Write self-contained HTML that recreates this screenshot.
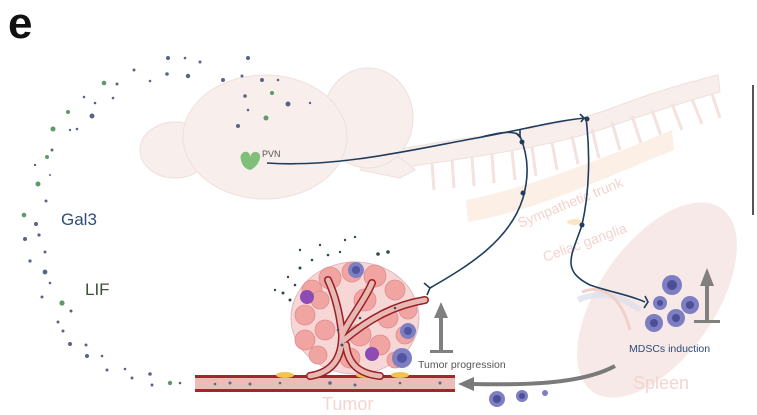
<!DOCTYPE html>
<html><head><meta charset="utf-8"><style>
html,body{margin:0;padding:0;background:#fff;width:757px;height:415px;overflow:hidden}
svg{display:block;font-family:"Liberation Sans",sans-serif}
</style></head><body>
<svg width="757" height="415" viewBox="0 0 757 415" xmlns="http://www.w3.org/2000/svg">
<text x="8" y="38" font-size="44" font-weight="bold" fill="#111">e</text>
<line x1="753" y1="85" x2="753" y2="215" stroke="#555" stroke-width="2"/>
<!-- spine -->
<g fill="#f8eeec" stroke="#efe0dc" stroke-width="1">
<path d="M395,150 C470,135 560,130 620,105 C660,90 690,82 718,75 L720,92 C690,100 660,110 620,123 C560,146 480,156 400,168 Z"/>
</g>
<g stroke="#f3e2de" stroke-width="3" fill="none">
<line x1="432" y1="163" x2="434" y2="190"/><line x1="452" y1="160" x2="454" y2="188"/><line x1="472" y1="157" x2="474" y2="186"/><line x1="492" y1="154" x2="494" y2="183"/><line x1="512" y1="151" x2="515" y2="180"/><line x1="532" y1="147" x2="536" y2="176"/><line x1="552" y1="142" x2="557" y2="170"/><line x1="572" y1="136" x2="578" y2="164"/><line x1="592" y1="129" x2="599" y2="158"/><line x1="612" y1="122" x2="620" y2="150"/><line x1="632" y1="116" x2="641" y2="143"/><line x1="652" y1="110" x2="661" y2="136"/><line x1="672" y1="104" x2="682" y2="130"/><line x1="692" y1="99" x2="702" y2="124"/><line x1="712" y1="94" x2="720" y2="118"/>
</g>
<!-- sympathetic trunk -->
<path d="M466,200 C520,190 600,160 672,130 L674,150 C610,175 540,210 468,222 Z" fill="#fcefe6"/>
<text x="520" y="228" font-size="14" fill="#f3d3ce" transform="rotate(-22 520 228)">Sympathetic trunk</text>
<ellipse cx="575" cy="222" rx="8" ry="3" fill="#fbe6c4"/>
<text x="545" y="262" font-size="14" fill="#f3d3ce" transform="rotate(-20 545 262)">Celiac ganglia</text>
<!-- brain -->
<g fill="#f8eeec" stroke="#eee0dc" stroke-width="1">
<path d="M370,150 C395,150 410,165 415,170 L400,178 L360,170 Z"/>
<ellipse cx="368" cy="118" rx="45" ry="50"/>
<ellipse cx="175" cy="150" rx="35" ry="28"/>
<ellipse cx="265" cy="137" rx="82" ry="62"/>
</g>
<path d="M241,160 c-3,-9 10,-12 9,-2 c1,-10 14,-7 9,3 c-2,5 -6,8 -9,9 c-4,-1 -8,-4 -9,-10z" fill="#7fbf7a"/>
<text x="262" y="157" font-size="9" fill="#555">PVN</text>
<!-- spleen -->
<g transform="rotate(35 657 300)"><ellipse cx="657" cy="300" rx="58" ry="112" fill="#f7e9e7"/></g>
<path d="M578,300 C600,290 620,295 640,310" stroke="#dde0ec" stroke-width="6" fill="none" opacity="0.8"/>
<path d="M582,292 C600,285 620,292 630,330" stroke="#f4cfca" stroke-width="3" fill="none"/>
<text x="633" y="389" font-size="18" fill="#f3d5d1">Spleen</text>
<!-- nerves -->
<g stroke="#1f3d5c" stroke-width="1.6" fill="none">
<path d="M267,163 C340,168 420,148 482,137 C530,128 560,120 586,118"/>
<path d="M482,137 C500,132 515,130 520,136 C530,160 528,180 523,198 C510,240 470,265 430,288"/>
<path d="M586,118 C590,150 590,190 582,225 C572,255 560,270 590,285 C610,292 630,295 645,302"/>
<path d="M424,283 l6,5 l-3,7"/><path d="M645,296 l3,6 l-4,6"/>
<path d="M516,133 l4,4 M520,130 l0,8"/><path d="M580,114 l4,4 l-3,4"/>
</g>
<g fill="#1f3d5c"><circle cx="522" cy="142" r="2.5"/><circle cx="523" cy="193" r="2.5"/><circle cx="582" cy="225" r="2.5"/><circle cx="587" cy="119" r="2.5"/></g>
<!-- vessel -->
<rect x="195" y="376" width="260" height="15" fill="#e9bdb8"/>
<rect x="195" y="375" width="260" height="3" fill="#a3262b"/>
<rect x="195" y="389" width="260" height="3" fill="#a3262b"/>
<ellipse cx="285" cy="375" rx="9" ry="3" fill="#f2c350"/><ellipse cx="365" cy="375" rx="9" ry="3" fill="#f2c350"/><ellipse cx="400" cy="375" rx="9" ry="3" fill="#f2c350"/>
<!-- tumor -->
<ellipse cx="355" cy="318" rx="64" ry="56" fill="#f6d7d6" stroke="#e2b8c0" stroke-width="1"/>
<g fill="#f0a5a3" stroke="#e08c8a" stroke-width="0.8">
<circle cx="312" cy="290" r="10"/><circle cx="330" cy="278" r="11"/><circle cx="352" cy="272" r="10"/><circle cx="375" cy="276" r="11"/><circle cx="395" cy="290" r="10"/>
<circle cx="305" cy="315" r="10"/><circle cx="320" cy="300" r="9"/><circle cx="365" cy="300" r="11"/><circle cx="388" cy="318" r="10"/><circle cx="408" cy="310" r="9"/>
<circle cx="305" cy="340" r="10"/><circle cx="325" cy="330" r="10"/><circle cx="360" cy="335" r="11"/><circle cx="380" cy="345" r="10"/><circle cx="405" cy="335" r="9"/>
<circle cx="318" cy="355" r="9"/><circle cx="350" cy="358" r="10"/><circle cx="395" cy="360" r="8"/>
</g>
<g fill="none" stroke-linecap="round">
<path d="M310,376 C335,372 342,355 342,335 C340,315 335,295 328,280 M342,335 C350,318 365,300 372,283 M344,340 C370,318 395,305 425,300 M346,345 C348,365 360,374 380,376" stroke="#9a1f26" stroke-width="8"/>
<path d="M310,376 C335,372 342,355 342,335 C340,315 335,295 328,280 M342,335 C350,318 365,300 372,283 M344,340 C370,318 395,305 425,300 M346,345 C348,365 360,374 380,376" stroke="#e8b9b3" stroke-width="5"/>
</g>
<g fill="#4a4a6a"><circle cx="342" cy="345" r="1.5"/><circle cx="338" cy="330" r="1.3"/><circle cx="360" cy="318" r="1.3"/><circle cx="395" cy="308" r="1.3"/></g>
<circle cx="307" cy="297" r="7" fill="#8e4bb3"/><circle cx="372" cy="354" r="7" fill="#8e4bb3"/>
<circle cx="356" cy="270" r="8" fill="#7d7fc2"/><circle cx="356" cy="270" r="4" fill="#5355a0"/>
<circle cx="408" cy="331" r="8" fill="#7d7fc2"/><circle cx="408" cy="331" r="4" fill="#5355a0"/>
<circle cx="402" cy="358" r="10" fill="#7d7fc2"/><circle cx="402" cy="358" r="5" fill="#5355a0"/>
<g fill="#2d4a4a"><circle cx="290" cy="300" r="1.5"/><circle cx="283" cy="293" r="1.5"/><circle cx="295" cy="285" r="1.3"/><circle cx="300" cy="268" r="1.5"/><circle cx="312" cy="260" r="1.3"/><circle cx="328" cy="255" r="1.3"/><circle cx="345" cy="240" r="1.2"/><circle cx="355" cy="237" r="1.2"/><circle cx="378" cy="254" r="1.8"/><circle cx="388" cy="252" r="1.8"/><circle cx="275" cy="290" r="1.2"/><circle cx="300" cy="250" r="1.2"/><circle cx="320" cy="245" r="1.2"/><circle cx="340" cy="252" r="1.2"/><circle cx="288" cy="277" r="1.2"/></g>
<g fill="#5a6a88"><circle cx="215" cy="384" r="1.3"/><circle cx="230" cy="383" r="1.5"/><circle cx="250" cy="384" r="1.5"/><circle cx="280" cy="383" r="1.3"/><circle cx="330" cy="383" r="1.8"/><circle cx="355" cy="385" r="1.5"/><circle cx="400" cy="383" r="1.3"/><circle cx="440" cy="383" r="1.5"/></g>
<!-- arrows -->
<g fill="#808080">
<rect x="439" y="316" width="4" height="36"/><path d="M434,318 L441,302 L448,318Z"/><rect x="430" y="350" width="23" height="3"/>
<rect x="705" y="284" width="4" height="36"/><path d="M700,286 L707,268 L714,286Z"/><rect x="694" y="320" width="26" height="3"/>
</g>
<text x="418" y="368" font-size="10.5" fill="#555">Tumor progression</text>
<path d="M615,366 C580,385 520,385 472,384" stroke="#7a7a7a" stroke-width="4" fill="none"/>
<path d="M474,377 L458,384 L474,391Z" fill="#7a7a7a"/>
<text x="322" y="410" font-size="18" fill="#f3d5d1">Tumor</text>
<!-- MDSCs -->
<g fill="#7d7fc2"><circle cx="672" cy="285" r="10"/><circle cx="660" cy="303" r="7"/><circle cx="690" cy="305" r="9"/><circle cx="676" cy="318" r="9"/><circle cx="654" cy="323" r="9"/>
<circle cx="497" cy="399" r="8"/><circle cx="522" cy="396" r="6"/><circle cx="545" cy="393" r="3"/></g>
<g fill="#4d4f96"><circle cx="672" cy="285" r="5"/><circle cx="660" cy="303" r="3"/><circle cx="690" cy="305" r="4"/><circle cx="676" cy="318" r="4"/><circle cx="654" cy="323" r="4"/><circle cx="497" cy="399" r="4"/><circle cx="522" cy="396" r="3"/></g>
<text x="629" y="352" font-size="10.5" fill="#2a4a75">MDSCs induction</text>
<!-- Gal3 / LIF -->
<text x="61" y="225" font-size="17" fill="#2c4f72">Gal3</text>
<text x="85" y="295" font-size="17" fill="#3f4d3c">LIF</text>
<g fill="#5a6488">
<circle cx="168" cy="58" r="2"/><circle cx="185" cy="58" r="1.3"/><circle cx="200" cy="62" r="1.5"/><circle cx="248" cy="58" r="2"/><circle cx="134" cy="70" r="1.5"/><circle cx="150" cy="81" r="1.3"/><circle cx="167" cy="74" r="1.8"/><circle cx="188" cy="76" r="2.2"/><circle cx="223" cy="80" r="2"/><circle cx="242" cy="76" r="1.5"/><circle cx="262" cy="80" r="2"/><circle cx="278" cy="80" r="1.3"/><circle cx="117" cy="84" r="1.5"/><circle cx="84" cy="97" r="1.3"/><circle cx="95" cy="103" r="1.3"/><circle cx="113" cy="98" r="1.3"/><circle cx="92" cy="116" r="2.5"/><circle cx="245" cy="96" r="1.8"/><circle cx="288" cy="104" r="2.5"/><circle cx="310" cy="103" r="1.2"/><circle cx="70" cy="130" r="1.2"/><circle cx="77" cy="129" r="1.3"/><circle cx="248" cy="110" r="1.3"/><circle cx="238" cy="126" r="2"/><circle cx="52" cy="150" r="1.5"/><circle cx="35" cy="165" r="1.2"/><circle cx="50" cy="175" r="1"/>
<circle cx="46" cy="201" r="1.5"/><circle cx="36" cy="224" r="2"/><circle cx="39" cy="235" r="1.6"/><circle cx="25" cy="239" r="2"/><circle cx="45" cy="252" r="1.5"/><circle cx="30" cy="261" r="1.6"/><circle cx="45" cy="272" r="2.4"/><circle cx="50" cy="283" r="1.3"/><circle cx="42" cy="297" r="1.5"/><circle cx="71" cy="311" r="1.5"/><circle cx="58" cy="322" r="1.5"/><circle cx="63" cy="331" r="1.5"/><circle cx="70" cy="344" r="2"/><circle cx="86" cy="345" r="1.5"/><circle cx="87" cy="356" r="2"/><circle cx="102" cy="356" r="1.3"/><circle cx="107" cy="370" r="1.5"/><circle cx="125" cy="369" r="1.3"/><circle cx="132" cy="378" r="1.5"/><circle cx="150" cy="374" r="1.8"/><circle cx="152" cy="385" r="1.5"/><circle cx="180" cy="383" r="1.3"/>
</g>
<g fill="#5d9a6a">
<circle cx="104" cy="83" r="2.3"/><circle cx="68" cy="112" r="2"/><circle cx="53" cy="129" r="2.5"/><circle cx="47" cy="157" r="2"/><circle cx="38" cy="184" r="2.5"/><circle cx="24" cy="215" r="2.3"/><circle cx="62" cy="303" r="2.6"/><circle cx="170" cy="383" r="2.2"/><circle cx="272" cy="93" r="2"/><circle cx="266" cy="118" r="2.5"/>
</g>
</svg>
</body></html>
